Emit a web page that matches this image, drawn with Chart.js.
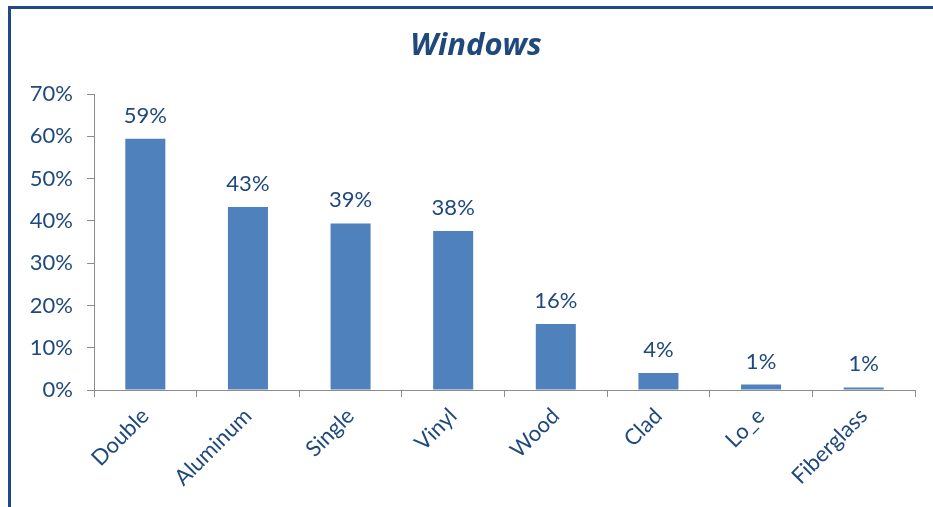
<!DOCTYPE html>
<html>
<head>
<meta charset="utf-8">
<script src="https://cdn.jsdelivr.net/npm/chart.js@4.4.1/dist/chart.umd.min.js"></script>
<style>
  html, body { margin: 0; padding: 0; background: #fff; }
  #wrap { position: relative; width: 933px; height: 507px; overflow: hidden; }
  #frame { position: absolute; left: 8px; top: 6px; right: -10px; bottom: -10px;
           border-top: 3px solid #1F4A85; border-left: 3px solid #1F4A85; box-sizing: border-box; }
  canvas { position: absolute; left: 0; top: 0; }
</style>
</head>
<body>
<div id="wrap">
  <div id="frame"></div>
  <canvas id="c" width="933" height="507"></canvas>
</div>
<script>
// Share of homes by window type
const categories = ['Double', 'Aluminum', 'Single', 'Vinyl', 'Wood', 'Clad', 'Lo_e', 'Fiberglass'];
const shares = [0.594, 0.433, 0.394, 0.376, 0.156, 0.040, 0.013, 0.006];
const yTicks = [0, 0.1, 0.2, 0.3, 0.4, 0.5, 0.6, 0.7];
const titleText = 'Windows';

const textColor = '#1F497D';
const axisColor = '#8C8C8C';
const fontFamily = 'Lato, "Open Sans", sans-serif';

const pct = v => Math.round(v * 100) + '%';

// Heading, centred over the frame rather than the plot
const heading = {
  id: 'heading',
  afterDraw(chart) {
    const ctx = chart.ctx;
    ctx.save();
    ctx.fillStyle = textColor;
    ctx.font = 'italic bold 31px "Open Sans", Lato, sans-serif';
    ctx.textAlign = 'center';
    ctx.textBaseline = 'alphabetic';
    ctx.fillText(titleText, 476, 55);
    ctx.restore();
  }
};

// Value labels drawn above each bar
const valueLabels = {
  id: 'valueLabels',
  afterDatasetsDraw(chart) {
    const ctx = chart.ctx;
    const meta = chart.getDatasetMeta(0);
    ctx.save();
    ctx.fillStyle = textColor;
    ctx.font = '22px ' + fontFamily;
    ctx.textAlign = 'center';
    ctx.textBaseline = 'alphabetic';
    meta.data.forEach((bar, i) => {
      ctx.fillText(pct(shares[i]), bar.x, bar.y - 16);
    });
    ctx.restore();
  }
};

new Chart(document.getElementById('c'), {
  type: 'bar',
  data: {
    labels: categories,
    datasets: [{
      data: shares,
      backgroundColor: '#4F81BD',
      borderWidth: 0,
      barPercentage: 0.39 / 0.9,
      categoryPercentage: 0.9
    }]
  },
  options: {
    responsive: false,
    animation: false,
    layout: { padding: { left: 0, right: 18, top: 94, bottom: 0 } },
    plugins: {
      legend: { display: false },
      tooltip: { enabled: false },
      title: { display: false }
    },
    scales: {
      y: {
        min: 0,
        max: 0.7,
        afterBuildTicks(scale) { scale.ticks = yTicks.map(v => ({ value: v })); },
        afterFit(scale) { scale.width = 94; },
        ticks: {
          color: textColor,
          font: { family: fontFamily, size: 22 },
          padding: 14,
          callback: v => pct(v)
        },
        grid: { display: true, drawOnChartArea: false, drawTicks: true, tickLength: 7, color: axisColor },
        border: { display: true, color: axisColor, width: 1 }
      },
      x: {
        afterFit(scale) { scale.height = 117; },
        ticks: {
          color: textColor,
          font: { family: fontFamily, size: 22 },
          minRotation: 45,
          maxRotation: 45,
          padding: 6
        },
        grid: { display: true, drawOnChartArea: false, drawTicks: true, tickLength: 7, color: axisColor, offset: true },
        border: { display: true, color: axisColor, width: 1 }
      }
    }
  },
  plugins: [valueLabels, heading]
});
</script>
</body>
</html>
